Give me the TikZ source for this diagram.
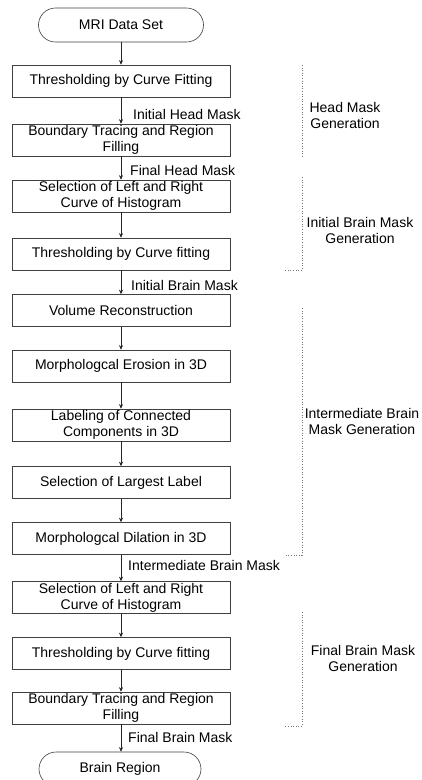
\documentclass[tikz,border=0pt]{standalone}
\usepackage{fontspec}
\setmainfont{Liberation Sans}
\usetikzlibrary{arrows.meta}
\begin{document}
\begin{tikzpicture}[x=1pt,y=-1pt,
 txt/.style={font=\fontsize{14}{16}\selectfont},
 box/.style={txt, draw=black!75, line width=0.6pt, minimum width=218pt, minimum height=32pt, align=center, inner sep=0pt},
 term/.style={txt, draw=black!75, line width=0.6pt, rounded corners=17pt, minimum width=165pt, minimum height=34pt, inner sep=0pt},
 flow/.style={draw=black!85, line width=0.6pt, -{Stealth[length=4.5pt,width=4pt]}},
 lab/.style={txt, anchor=west, inner sep=0pt},
 grp/.style={txt, align=center, inner sep=0pt},
 brk/.style={draw=black!55, line width=0.6pt, dotted}
]
\clip (0,0) rectangle (421,780);
\fill[white] (0,0) rectangle (421,780);

\node[term] (start) at (121,25) {MRI Data Set};
\node[box] (b1) at (121,81) {Thresholding by Curve Fitting};
\node[box] (b2) at (121,140) {Boundary Tracing and Region\\Filling};
\node[box] (b3) at (121,196) {Selection of Left and Right\\Curve of Histogram};
\node[box] (b4) at (121,254) {Thresholding by Curve fitting};
\node[box] (b5) at (121,310.5) {Volume Reconstruction};
\node[box] (b6) at (121,366) {Morphologcal Erosion in 3D};
\node[box] (b7) at (121,425) {Labeling of Connected\\Components in 3D};
\node[box] (b8) at (121,482.5) {Selection of Largest Label};
\node[box] (b9) at (121,538.5) {Morphologcal Dilation in 3D};
\node[box] (b10) at (121,597.5) {Selection of Left and Right\\Curve of Histogram};
\node[box] (b11) at (121,653.5) {Thresholding by Curve fitting};
\node[box] (b12) at (121,708) {Boundary Tracing and Region\\Filling};
\node[term, minimum width=162pt] (end) at (120,769) {Brain Region};

\draw[flow] (start.south) -- (b1.north);
\draw[flow] (b1.south) -- (b2.north);
\draw[flow] (b2.south) -- (b3.north);
\draw[flow] (b3.south) -- (b4.north);
\draw[flow] (b4.south) -- (b5.north);
\draw[flow] (b5.south) -- (b6.north);
\draw[flow] (b6.south) -- (b7.north);
\draw[flow] (b7.south) -- (b8.north);
\draw[flow] (b8.south) -- (b9.north);
\draw[flow] (b9.south) -- (b10.north);
\draw[flow] (b10.south) -- (b11.north);
\draw[flow] (b11.south) -- (b12.north);
\draw[flow] (b12.south) -- (b12.south |- end.north);

\node[lab] (l1) at (133,114) {Initial Head Mask};
\node[lab] (l2) at (130,170) {Final Head Mask};
\node[lab] (l3) at (131,285) {Initial Brain Mask};
\node[lab] (l4) at (128,565) {Intermediate Brain Mask};
\node[lab] (l5) at (128,737) {Final Brain Mask};

\node[grp] (g1) at (345,115) {Head Mask\\Generation};
\node[grp] (g2) at (360,230) {Initial Brain Mask\\Generation};
\node[grp] (g3) at (362,421) {Intermediate Brain\\Mask Generation};
\node[grp] (g4) at (363,658) {Final Brain Mask\\Generation};

\coordinate (k1a) at (302,65);
\coordinate (k1b) at (302,157);
\coordinate (k2a) at (302,177);
\coordinate (k2b) at (302,270);
\coordinate (k2c) at (285,270);
\coordinate (k3a) at (302,308);
\coordinate (k3b) at (302,555);
\coordinate (k3c) at (285,555);
\coordinate (k4a) at (302,612);
\coordinate (k4b) at (302,726);
\coordinate (k4c) at (285,726);
\draw[brk] (k1a) -- (k1b);
\draw[brk] (k2a) -- (k2b) -- (k2c);
\draw[brk] (k3a) -- (k3b) -- (k3c);
\draw[brk] (k4a) -- (k4b) -- (k4c);
\end{tikzpicture}
\end{document}
